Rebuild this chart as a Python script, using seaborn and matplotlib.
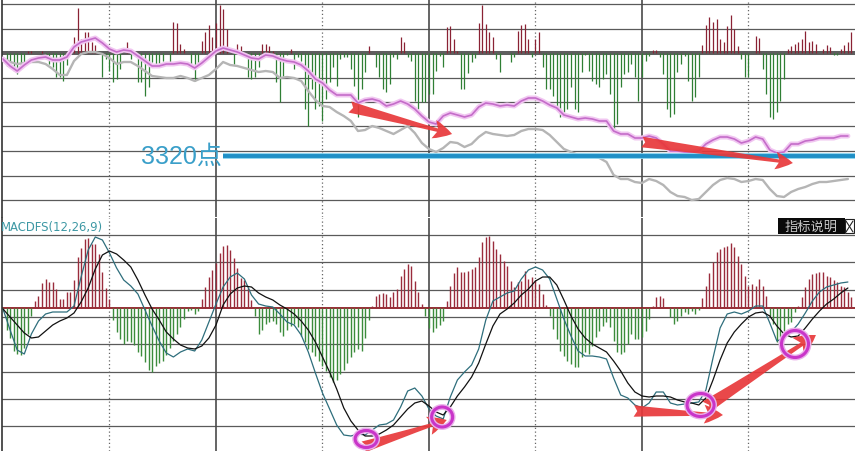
import numpy as np
import pandas as pd
import matplotlib
matplotlib.use("Agg")
import matplotlib.pyplot as plt
import seaborn as sns
from matplotlib.patches import Ellipse, Rectangle
from matplotlib.lines import Line2D

sns.set_theme(style="white")
plt.rcParams['font.family'] = ['DejaVu Sans', 'Noto Sans CJK SC']

# ---------------- data ----------------
# top panel indicator bars (one per trading day, 240 days)
top_bars = [
    0, -13, -9, -18, -21, -13, -9, 2, 2, 0,
    0, 2, -6, -11, -14, -24, -24, -28, -12, 0,
    16, 45, 14, 21, 21, 11, 8, 0, -24, -6,
    -18, -29, -26, -16, 0, 11, -6, 0, -29, -29,
    -43, -34, -9, -13, -10, -8, 0, -9, 31, 30,
    9, 4, 0, -11, -28, -11, 12, 21, 28, 16,
    30, 48, 44, 24, 0, -11, 9, 7, -3, -24,
    -26, -24, -14, 9, 9, 7, 2, -29, -49, -23,
    -2, 4, -16, -4, -8, -56, -73, -36, -56, -53,
    -68, -46, -29, -14, -33, -6, -4, -4, -16, -33,
    -64, -36, -19, 7, 0, -14, -24, -36, -39, -31,
    -4, -6, 16, 11, -4, -8, -48, -56, -49, -49,
    -41, -41, -18, -3, -14, 26, 27, 14, 2, -36,
    -36, -20, -9, -5, 30, 48, 29, 21, 16, -6,
    -19, 0, 0, -9, -4, 22, 28, 29, 14, -4,
    14, 21, -14, -36, -36, -43, -53, -64, -59, -56,
    -34, -56, -59, -19, -2, -18, -28, -31, -34, -26,
    -21, -41, -76, -71, -34, -21, -19, -11, -24, -48,
    -24, -8, -3, 3, 3, -4, -21, -56, -64, -61,
    -19, -11, -3, -28, -48, -44, -24, 8, 28, 36,
    31, 34, 14, 11, 27, 38, 24, 7, -6, -24,
    -24, 0, 17, 15, -16, -41, -64, -66, -59, -48,
    -26, 4, 7, 9, 11, 14, 22, 11, 12, 9,
    0, 4, 8, 6, -2, -2, 4, 8, 11, 21,
]

# index lines (sampled every 2 trading days)
pink_line = [
    3417, 3410, 3405, 3411, 3416, 3418, 3419, 3416, 3416, 3419,
    3429, 3434, 3436, 3438, 3433, 3427, 3424, 3426, 3425, 3420,
    3415, 3410, 3410, 3412, 3412, 3413, 3412, 3408, 3413, 3419,
    3425, 3428, 3426, 3424, 3421, 3418, 3417, 3421, 3420, 3417,
    3415, 3414, 3411, 3405, 3397, 3393, 3386, 3381, 3381, 3381,
    3373, 3376, 3377, 3375, 3370, 3372, 3375, 3372, 3367, 3360,
    3354, 3352, 3360, 3363, 3361, 3359, 3361, 3369, 3373, 3372,
    3370, 3371, 3370, 3375, 3378, 3378, 3375, 3371, 3368, 3361,
    3359, 3357, 3358, 3357, 3355, 3355, 3345, 3342, 3342, 3338,
    3338, 3340, 3338, 3332, 3325, 3325, 3324, 3324, 3325, 3332,
    3336, 3339, 3339, 3337, 3333, 3335, 3339, 3337, 3326, 3323,
    3324, 3332, 3332, 3335, 3336, 3338, 3338, 3338, 3340, 3340,
]
gray_line = [
    3418, 3414, 3412, 3413, 3414, 3414, 3412, 3407, 3401, 3401,
    3415, 3422, 3424, 3424, 3422, 3418, 3412, 3414, 3414, 3410,
    3405, 3400, 3399, 3398, 3398, 3400, 3398, 3395, 3398, 3401,
    3407, 3414, 3411, 3410, 3408, 3406, 3404, 3405, 3404, 3398,
    3399, 3398, 3395, 3385, 3376, 3370, 3369, 3364, 3360, 3355,
    3345, 3346, 3350, 3348, 3345, 3342, 3346, 3350, 3343, 3333,
    3327, 3324, 3328, 3334, 3333, 3329, 3332, 3339, 3344, 3342,
    3341, 3340, 3341, 3345, 3347, 3347, 3346, 3341, 3334, 3327,
    3324, 3321, 3321, 3320, 3318, 3314, 3301, 3297, 3297, 3294,
    3293, 3297, 3295, 3291, 3284, 3280, 3279, 3276, 3277, 3284,
    3291, 3296, 3298, 3297, 3294, 3295, 3297, 3296, 3287, 3280,
    3279, 3284, 3287, 3289, 3292, 3294, 3294, 3295, 3296, 3297,
]
support_level = 3320
support_label = "3320点"

# MACD histogram (one per day)
macd_hist = [
    -3, -22, -30, -43, -46, -47, -40, -26, -8, 7,
    12, 25, 29, 26, 26, 19, 9, 9, 16, 16,
    28, 51, 60, 69, 70, 64, 64, 54, 36, 20,
    9, -12, -24, -31, -36, -33, -34, -37, -44, -48,
    -54, -62, -64, -58, -55, -53, -47, -40, -33, -26,
    -19, -11, -3, -2, -6, -3, 9, 21, 31, 38,
    45, 55, 62, 63, 58, 50, 40, 30, 28, 20,
    8, -8, -26, -22, -16, -14, -13, -16, -24, -28,
    -22, -18, -16, -19, -28, -34, -41, -44, -48, -53,
    -58, -63, -69, -74, -72, -66, -62, -55, -49, -44,
    -41, -43, -30, -12, 2, 12, 14, 15, 14, 11,
    16, 19, 32, 39, 44, 42, 27, 16, 4, -8,
    -20, -24, -20, -17, -13, 7, 22, 35, 41, 36,
    36, 37, 39, 41, 51, 66, 71, 72, 67, 59,
    54, 47, 42, 27, 21, 26, 27, 37, 29, 31,
    28, 24, 14, 3, -8, -21, -31, -43, -48, -53,
    -56, -59, -59, -49, -44, -46, -38, -29, -23, -18,
    -14, -19, -33, -44, -46, -44, -36, -26, -31, -31,
    -29, -23, -11, 2, 11, 12, 10, 1, -9, -16,
    -13, -8, -4, -6, -3, -6, -2, 10, 22, 35,
    46, 56, 59, 61, 62, 65, 61, 52, 44, 32,
    22, 24, 22, 29, 22, 12, -8, -16, -34, -29,
    -23, -16, -14, -4, 2, 11, 21, 29, 34, 35,
    36, 36, 32, 31, 28, 26, 22, 21, 16, 11,
]
# DIF / DEA (every 2 days)
dif_line = [
    -1, -22, -42, -46, -26, -13, -6, -4, -4, -4,
    2, 31, 58, 71, 68, 55, 40, 28, 22, 14,
    -2, -18, -33, -45, -49, -44, -41, -43, -32, -14,
    4, 21, 31, 35, 29, 13, 4, 2, 1, -6,
    -14, -17, -27, -44, -65, -85, -101, -117, -127, -128,
    -126, -127, -122, -117, -116, -112, -99, -83, -80, -88,
    -101, -108, -111, -89, -72, -64, -57, -41, -12, 7,
    11, 15, 17, 29, 38, 41, 38, 29, 9, -11,
    -28, -43, -48, -48, -49, -51, -70, -87, -90, -97,
    -100, -95, -84, -84, -95, -97, -96, -95, -94, -82,
    -50, -20, -6, -4, -6, -3, 2, 2, -15, -33,
    -30, -24, -16, -5, 7, 16, 21, 23, 25, 26,
]
dea_line = [
    -1, -9, -17, -25, -30, -29, -23, -17, -13, -10,
    -5, 6, 20, 39, 53, 57, 54, 48, 41, 28,
    13, -1, -12, -24, -31, -37, -40, -41, -38, -30,
    -17, 3, 14, 20, 22, 21, 15, 11, 8, 3,
    -1, -6, -13, -22, -34, -49, -64, -81, -100, -113,
    -122, -128, -128, -126, -122, -117, -109, -101, -95, -93,
    -98, -104, -107, -99, -88, -79, -69, -55, -36, -18,
    -6, -1, 5, 13, 19, 27, 31, 31, 23, 8,
    -8, -21, -30, -36, -40, -44, -53, -63, -75, -84,
    -88, -89, -88, -88, -89, -92, -94, -95, -97, -90,
    -72, -52, -35, -24, -16, -9, -5, -4, -8, -18,
    -26, -29, -28, -20, -11, -3, 4, 9, 15, 20,
]
macd_title = "MACDFS(12,26,9)"
help_label = "指标说明"

days = np.arange(len(macd_hist))
days2 = np.arange(0, len(macd_hist), 2)
bars_df = pd.DataFrame({"day": days, "top": top_bars, "macd": macd_hist})
lines_df = pd.DataFrame({"day": days2, "pink": pink_line, "gray": gray_line,
                         "DIF": dif_line, "DEA": dea_line})

# ---------------- figure ----------------
W, H = 855, 452
fig = plt.figure(figsize=(W / 100, H / 100), dpi=100)
fig.patch.set_facecolor("white")


def rect(x0, y0, x1, y1):
    return [x0 / W, 1 - y1 / H, (x1 - x0) / W, (y1 - y0) / H]


ax_top = fig.add_axes(rect(2, 0, 855, 218))
ax_price = ax_top.twinx()
ax_macd = fig.add_axes(rect(2, 219, 855, 452))

XL = (-0.28, 240.0)
for a in (ax_top, ax_price, ax_macd):
    a.set_xlim(*XL)
    for s in a.spines.values():
        s.set_visible(False)
ax_top.set_ylim(-164, 54)
ax_price.set_ylim(3259, 3477)
ax_macd.set_ylim(-143, 90)
for a in (ax_top, ax_macd):
    a.spines["left"].set_visible(True)
    a.spines["left"].set_color("#333333")
    a.spines["left"].set_linewidth(1.2)

grid_c = "#5a5a5a"
# top grid
for gy in np.arange(49, -150, -24.5):
    ax_top.axhline(gy, color=grid_c, lw=0.9, zorder=0)
ax_top.axhline(0, color="#5e5e5e", lw=2.9, zorder=1)
# bottom grid
for gy in np.arange(73, -125, -27.3):
    ax_macd.axhline(gy, color=grid_c, lw=0.9, zorder=0)
ax_macd.axhline(0, color="#8e1f24", lw=1.3, zorder=2)

# vertical separators
for a in (ax_top, ax_macd):
    for v in (30, 90, 150, 210):
        a.axvline(v, color="#666666", lw=0.9, ls=(0, (1, 2)), zorder=0)
    for v in (60, 120, 180):
        a.axvline(v, color="#4a4a4a", lw=1.2, zorder=0)

# top bars
red_c, green_c = "#8a2234", "#2f7f34"
tb = bars_df[bars_df["top"] > 0]
ax_top.vlines(tb["day"], 0, tb["top"], color=red_c, lw=0.9, zorder=2)
tb = bars_df[bars_df["top"] < 0]
ax_top.vlines(tb["day"], 0, tb["top"], color=green_c, lw=0.9, zorder=2)

# index lines
sns.lineplot(data=lines_df, x="day", y="gray", ax=ax_price, color="#b5b5b5",
             lw=1.7, estimator=None, zorder=3)
sns.lineplot(data=lines_df, x="day", y="pink", ax=ax_price, color="#f1c6f1",
             lw=3.6, estimator=None, zorder=3)
sns.lineplot(data=lines_df, x="day", y="pink", ax=ax_price, color="#c46cc9",
             lw=1.2, estimator=None, zorder=4)

# support line and label
x_start = 62.0
ax_price.hlines(support_level, x_start, XL[1], color="#8ad4ef", lw=4.2, zorder=5)
ax_price.hlines(support_level, x_start, XL[1], color="#1f8fc6", lw=2.8, zorder=5)
ax_price.text(61.6, support_level, support_label, ha="right", va="center",
              fontsize=18, color="#3a9fc9",
              family=["Liberation Sans", "Noto Sans CJK SC"], zorder=6)

# MACD histogram
hb = bars_df[bars_df["macd"] > 0]
ax_macd.vlines(hb["day"], 0, hb["macd"], color="#9a2c3c", lw=1.0, zorder=3)
hb = bars_df[bars_df["macd"] < 0]
ax_macd.vlines(hb["day"], 0, hb["macd"], color="#3c8c3c", lw=1.0, zorder=3)

sns.lineplot(data=lines_df, x="day", y="DIF", ax=ax_macd, color="#2e6e7c",
             lw=0.9, estimator=None, zorder=4)
sns.lineplot(data=lines_df, x="day", y="DEA", ax=ax_macd, color="#111111",
             lw=0.9, estimator=None, zorder=4)

for a in (ax_top, ax_price, ax_macd):
    a.set_xlabel("")
    a.set_ylabel("")
    a.set_xticks([])
    a.set_yticks([])
    a.set_xlim(*XL)

# arrows
arrow_c = "#e8383a"


def arrow(ax, start, end, scale):
    ax.annotate("", xy=end, xytext=start,
                arrowprops=dict(arrowstyle="fancy,head_length=0.9,head_width=0.9,tail_width=0.55",
                                mutation_scale=scale, color=arrow_c, lw=0,
                                shrinkA=0, shrinkB=0, alpha=0.92),
                annotation_clip=False, zorder=8)


arrow(ax_price, (97.7, 3369), (126.5, 3342), 15)
arrow(ax_price, (180.0, 3334), (222.5, 3313), 14)
arrow(ax_macd, (101.5, -139), (125.0, -112), 15)
arrow(ax_macd, (177.7, -103), (202.8, -107), 15)
arrow(ax_macd, (198.0, -99), (229.0, -27), 17)

# circles
for (cx, cy, w, h) in [(102.3, -131, 22, 17), (123.7, -109, 21, 20),
                       (196.5, -97, 27, 23), (223.1, -36, 27, 27)]:
    ax_macd.add_patch(Ellipse((cx, cy), w / 3.55, h, fill=False,
                              edgecolor="#eab0ea", lw=4.2, zorder=9))
    ax_macd.add_patch(Ellipse((cx, cy), w / 3.55, h, fill=False,
                              edgecolor="#c935c9", lw=2.2, zorder=9))

# labels
fig.text(1 / W, 1 - 228 / H, macd_title, ha="left", va="center", fontsize=8.4,
         color="#3d98a4")
fig.add_artist(Rectangle((778 / W, 1 - 235 / H), 67 / W, 16 / H,
                         transform=fig.transFigure, facecolor="#0a0a0a",
                         edgecolor="none", zorder=10))
fig.text(811 / W, 1 - 227.5 / H, help_label, ha="center", va="center",
         fontsize=9.5, color="#c8c8c8", family=["Noto Sans CJK SC"], zorder=11)
fig.add_artist(Rectangle((845 / W, 1 - 234 / H), 9 / W, 14 / H,
                         transform=fig.transFigure, facecolor="white",
                         edgecolor="#222222", lw=0.8, zorder=10))
fig.add_artist(Line2D([846 / W, 853 / W], [1 - 222 / H, 1 - 233 / H],
                      transform=fig.transFigure, color="#222222", lw=0.8, zorder=11))
fig.add_artist(Line2D([846 / W, 853 / W], [1 - 233 / H, 1 - 222 / H],
                      transform=fig.transFigure, color="#222222", lw=0.8, zorder=11))

fig.savefig("out.png", dpi=100, facecolor="white")
